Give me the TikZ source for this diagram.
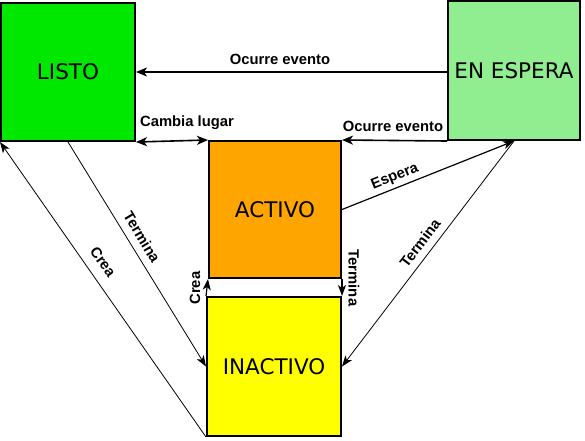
\documentclass[tikz,border=0pt]{standalone}
\usepackage{fontspec}
\setmainfont{Liberation Sans}
\newfontfamily\boxfont{DejaVu Sans}
\usetikzlibrary{arrows.meta}
\definecolor{cListo}{RGB}{0,232,0}
\definecolor{cEspera}{RGB}{144,238,144}
\definecolor{cActivo}{RGB}{255,165,0}
\definecolor{cInactivo}{RGB}{255,255,0}
\tikzset{
  state/.style={draw=black, line width=2pt, inner sep=0pt, font=\boxfont\fontsize{21.5}{21.5}\selectfont},
  thickarr/.style={line width=1.6pt, -{Stealth[length=11pt,width=9pt,inset=3pt]}},
  thinarr/.style={line width=0.8pt, -{Stealth[length=11pt,width=8pt,inset=3pt]}},
  lbl/.style={inner sep=0pt, font=\bfseries\fontsize{14.8}{14.8}\selectfont}
}
\begin{document}
\begin{tikzpicture}[x=1pt,y=-1pt]
\useasboundingbox[fill=white] (0,0) rectangle (585,440);
\node[state, fill=cListo, minimum width=134pt, minimum height=138pt] (listo) at (68,72) {LISTO};
\node[state, fill=cEspera, minimum width=132pt, minimum height=139pt] (espera) at (514,70.5) {EN ESPERA};
\node[state, fill=cActivo, minimum width=132pt, minimum height=137pt] (activo) at (275,209.5) {ACTIVO};
\node[state, fill=cInactivo, minimum width=134pt, minimum height=139pt] (inactivo) at (274,366.5) {INACTIVO};

\draw[thickarr] (listo.east -| espera.west) -- (listo.east);
\draw[thickarr, {Stealth[length=11pt,width=9pt,inset=3pt]}-{Stealth[length=11pt,width=9pt,inset=3pt]}] (listo.south east) -- (activo.north west);
\draw[thickarr] (espera.south west) -- (activo.north east);
\draw[thinarr, line width=1.2pt] (activo.east) -- (espera.south);
\draw[thinarr] (espera.south) -- (inactivo.east);
\draw[thinarr, line width=1.2pt] (activo.south east) -- (inactivo.north east);
\draw[thinarr, line width=1.2pt] (inactivo.north west) -- (activo.south west);
\draw[thinarr] (listo.south) -- (inactivo.west);
\draw[thinarr] (inactivo.south west) -- (listo.south west);

\node[lbl] (l1) at (280,59) {Ocurre evento};
\node[lbl] (l2) at (187,123) {Cambia lugar};
\node[lbl] (l3) at (393,126) {Ocurre evento};
\node[lbl, rotate=22] (l4) at (395,177) {Espera};
\node[lbl, rotate=53] (l5) at (420,243) {Termina};
\node[lbl, rotate=-59] (l6) at (142,237) {Termina};
\node[lbl, rotate=-55] (l7) at (103,262) {Crea};
\node[lbl, rotate=90] (l8) at (195,288) {Crea};
\node[lbl, rotate=-90] (l9) at (354,278) {Termina};
\end{tikzpicture}
\end{document}
